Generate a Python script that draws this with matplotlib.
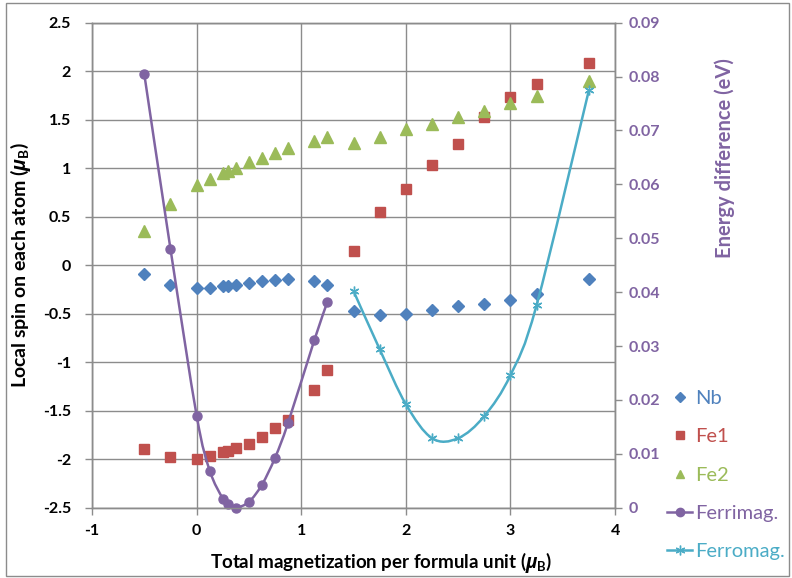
import matplotlib
matplotlib.use('Agg')
import matplotlib.pyplot as plt
from matplotlib.path import Path
from matplotlib.patches import PathPatch, Rectangle
from matplotlib.lines import Line2D
import numpy as np

plt.rcParams['font.family'] = ['Lato', 'DejaVu Sans']
plt.rcParams['mathtext.fontset'] = 'custom'
plt.rcParams['mathtext.it'] = 'Open Sans:bold:italic'
plt.rcParams['mathtext.bf'] = 'Lato:bold'
plt.rcParams['mathtext.rm'] = 'Lato:bold'
plt.rcParams['axes.unicode_minus'] = False

# magnetization values (x) for the spin series
mag = [-0.5, -0.25, 0, 0.125, 0.25, 0.3, 0.375, 0.5, 0.625, 0.75, 0.875,
       1.125, 1.25, 1.5, 1.75, 2, 2.25, 2.5, 2.75, 3, 3.25, 3.75]
nb = [-0.09, -0.20, -0.24, -0.23, -0.21, -0.21, -0.20, -0.18, -0.165, -0.15, -0.14,
      -0.16, -0.20, -0.47, -0.51, -0.50, -0.46, -0.42, -0.40, -0.36, -0.30, -0.14]
fe1 = [-1.89, -1.98, -2.00, -1.97, -1.93, -1.92, -1.88, -1.84, -1.77, -1.68, -1.60,
       -1.29, -1.08, 0.15, 0.55, 0.79, 1.03, 1.25, 1.53, 1.73, 1.87, 2.08]
fe2 = [0.35, 0.63, 0.83, 0.89, 0.95, 0.97, 1.00, 1.06, 1.11, 1.16, 1.21,
       1.28, 1.32, 1.26, 1.32, 1.40, 1.46, 1.53, 1.59, 1.67, 1.74, 1.90]

# energy difference (eV) on the right axis
ferri_x = [-0.5, -0.25, 0, 0.125, 0.25, 0.3, 0.375, 0.5, 0.625, 0.75, 0.875, 1.125, 1.25]
ferri_e = [0.0804, 0.0480, 0.0171, 0.0069, 0.0017, 0.0007, 0.0, 0.0011, 0.0043,
           0.0093, 0.0158, 0.0311, 0.0382]
ferro_x = [1.5, 1.75, 2, 2.25, 2.5, 2.75, 3, 3.25, 3.75]
ferro_e = [0.0402, 0.0294, 0.0192, 0.0129, 0.0129, 0.0170, 0.0246, 0.0376, 0.0775]

blue = '#4F81BD'
red = '#C0504D'
green = '#9BBB59'
purple = '#8064A2'
teal = '#4BACC6'
grid = '#8C8C8C'


def smooth_path(xs, ys):
    # Catmull-Rom turned into cubic bezier segments, like Excel's smoothed line
    pts = np.column_stack([xs, ys]).astype(float)
    verts = [pts[0]]
    codes = [Path.MOVETO]
    n = len(pts)
    for i in range(n - 1):
        p0 = pts[i - 1] if i > 0 else pts[i]
        p1 = pts[i]
        p2 = pts[i + 1]
        p3 = pts[i + 2] if i + 2 < n else pts[i + 1]
        verts += [p1 + (p2 - p0) / 6, p2 - (p3 - p1) / 6, p2]
        codes += [Path.CURVE4] * 3
    return Path(verts, codes)


fig = plt.figure(figsize=(7.92, 5.78), dpi=100)
ax = fig.add_axes([0.1162, 0.1216, 0.6604, 0.8391])
ax2 = ax.twinx()

ax.set_xlim(-1, 4)
ax.set_ylim(-2.5, 2.5)
ax2.set_ylim(0, 0.09)

ax.set_xticks(range(-1, 5))
ax.set_yticks(np.arange(-2.5, 2.51, 0.5))
ax.set_yticklabels(['%g' % v for v in np.arange(-2.5, 2.51, 0.5)])
ax2.set_yticks(np.arange(0, 0.091, 0.01))
ax2.set_yticklabels(['0'] + ['%.2f' % v for v in np.arange(0.01, 0.091, 0.01)])

ax.grid(True, color=grid, linewidth=1.0)
ax.set_axisbelow(True)
for a in (ax, ax2):
    for s in a.spines.values():
        s.set_color(grid)
        s.set_linewidth(1.0)
ax.tick_params(axis='x', colors=grid, length=5, width=1, labelsize=11.5, pad=7)
ax.tick_params(axis='y', colors=grid, length=5, width=1, labelsize=11.5, pad=10)
ax2.tick_params(axis='y', colors=grid, length=5, width=1, labelsize=11.5, pad=5)
for lbl in ax.get_xticklabels() + ax.get_yticklabels():
    lbl.set_color('black')
    lbl.set_fontweight('bold')
for lbl in ax2.get_yticklabels():
    lbl.set_color(purple)
    lbl.set_fontweight('bold')

ax.plot(mag, nb, linestyle='none', marker='D', markersize=6, color=blue, label='Nb', clip_on=False)
ax.plot(mag, fe1, linestyle='none', marker='s', markersize=7, color=red, label='Fe1', clip_on=False)
ax.plot(mag, fe2, linestyle='none', marker='^', markersize=8, color=green, label='Fe2', clip_on=False)

ax2.add_patch(PathPatch(smooth_path(ferri_x, ferri_e), facecolor='none', edgecolor=purple, linewidth=1.8))
ax2.plot(ferri_x, ferri_e, linestyle='none', marker='o', markersize=6.5, color=purple, clip_on=False)
ax2.add_patch(PathPatch(smooth_path(ferro_x, ferro_e), facecolor='none', edgecolor=teal, linewidth=1.8))
ax2.plot(ferro_x, ferro_e, linestyle='none', marker=(6, 2, 0), markersize=7, markeredgewidth=1,
         color=teal, clip_on=False)

ax.set_xlabel(r'Total magnetization per formula unit ($\mu_\mathbf{B}$)', fontsize=13.5, fontweight='bold')
ax.xaxis.set_label_coords(0.553, -0.088)
ax.set_ylabel(r'Local spin on each atom ($\mu_\mathbf{B}$)', fontsize=14, fontweight='bold')
ax.yaxis.set_label_coords(-0.113, 0.5)
ax2.set_ylabel('Energy difference (eV)', fontsize=14.5, fontweight='bold', color=purple)
ax2.yaxis.set_label_coords(1.19, 0.72)

handles = [
    Line2D([], [], linestyle='none', marker='D', markersize=5, color=blue),
    Line2D([], [], linestyle='none', marker='s', markersize=6, color=red),
    Line2D([], [], linestyle='none', marker='^', markersize=6, color=green),
    Line2D([], [], color=purple, linewidth=1.8, marker='o', markersize=6),
    Line2D([], [], color=teal, linewidth=1.8, marker=(6, 2, 0), markersize=7, markeredgewidth=1),
]
labels = ['Nb', 'Fe1', 'Fe2', 'Ferrimag.', 'Ferromag.']
fig.legend(handles, labels, loc='upper left', bbox_to_anchor=(667 / 792, 1 - 390 / 578),
           frameon=False, fontsize=14.5, handlelength=1.25, handletextpad=0.15,
           labelspacing=1.05, borderpad=0, borderaxespad=0,
           labelcolor=[blue, red, green, purple, teal])

fig.patches.append(Rectangle((6 / 792, 1 - 576 / 578), 783 / 792, 573 / 578,
                             transform=fig.transFigure, fill=False, edgecolor=grid, linewidth=1))

fig.savefig('out.png', dpi=100)
